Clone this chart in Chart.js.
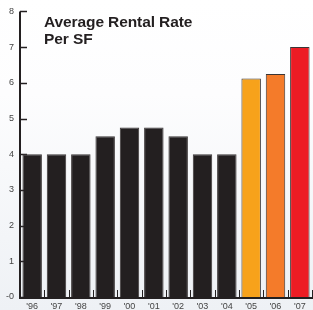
<!DOCTYPE html>
<html>
<head>
<meta charset="utf-8">
<script src="https://cdn.jsdelivr.net/npm/chart.js@4/dist/chart.umd.min.js"></script>
<style>
  html, body { margin: 0; padding: 0; }
  body { width: 313px; height: 310px; background: linear-gradient(#ffffff 0%, #fdfdfe 30%, #eef1f5 100%); position: relative; overflow: hidden; }
  #wrap { position: absolute; left: 0; top: 0; width: 313px; height: 310px; }
  #title { position: absolute; left: 44px; top: 13px; font-family: "Liberation Sans", Arial, sans-serif; font-weight: bold; font-size: 15.5px; line-height: 17px; color: #231f20; letter-spacing: -0.1px; }
</style>
</head>
<body>
<div id="wrap"><canvas id="c" width="313" height="310"></canvas></div>
<div id="title">Average Rental Rate<br>Per SF</div>
<script>
const categories = ["'96", "'97", "'98", "'99", "'00", "'01", "'02", "'03", "'04", "'05", "'06", "'07"];
const rentalRates = [4, 4, 4, 4.5, 4.75, 4.75, 4.5, 4, 4, 6.12, 6.25, 7];
const barColors = ["#231f20", "#231f20", "#231f20", "#231f20", "#231f20", "#231f20", "#231f20", "#231f20", "#231f20", "#f7a21b", "#f47b2a", "#ed1c24"];
const yTicks = [0, 1, 2, 3, 4, 5, 6, 7, 8];

const tickMarks = {
  id: 'tickMarks',
  beforeDatasetsDraw(chart) {
    const ctx = chart.ctx, y = chart.scales.y, x = chart.scales.x;
    ctx.save();
    ctx.strokeStyle = '#231f20';
    ctx.lineWidth = 1.5;
    yTicks.forEach(v => {
      const py = Math.round(y.getPixelForValue(v)) + 0.5;
      ctx.beginPath();
      ctx.moveTo(x.left, py);
      ctx.lineTo(x.left + 7, py);
      ctx.stroke();
    });
    ctx.restore();
  },
  afterDatasetsDraw(chart) {
    const ctx = chart.ctx, y = chart.scales.y, x = chart.scales.x;
    ctx.save();
    ctx.strokeStyle = '#231f20';
    ctx.lineWidth = 1;
    const bottom = y.getPixelForValue(0);
    const n = categories.length;
    for (let i = 1; i <= n; i++) {
      const px = Math.round((x.getPixelForValue(i - 1) + (i < n ? x.getPixelForValue(i) : x.getPixelForValue(i - 1) + (x.getPixelForValue(1) - x.getPixelForValue(0)))) / 2) + 0.5;
      ctx.beginPath();
      ctx.moveTo(px, bottom);
      ctx.lineTo(px, bottom - 7);
      ctx.stroke();
    }
    // axes
    ctx.lineWidth = 2;
    ctx.beginPath();
    ctx.moveTo(x.left, y.getPixelForValue(8));
    ctx.lineTo(x.left, bottom + 1);
    ctx.lineTo(x.right + 2, bottom + 1);
    ctx.stroke();
    ctx.restore();
  }
};

new Chart(document.getElementById('c'), {
  type: 'bar',
  data: {
    labels: categories,
    datasets: [{
      data: rentalRates,
      backgroundColor: barColors,
      borderColor: '#3a3535',
      borderWidth: 1,
      barPercentage: 0.8,
      categoryPercentage: 1.0
    }]
  },
  options: {
    responsive: false,
    animation: false,
    devicePixelRatio: 1,
    layout: { padding: { top: 11, right: 1, left: 0, bottom: 0 } },
    plugins: { legend: { display: false }, tooltip: { enabled: false }, title: { display: false } },
    scales: {
      x: {
        grid: { display: false, drawTicks: false },
        border: { display: false },
        ticks: { color: '#444', font: { family: 'Liberation Sans', size: 9 }, padding: 4, maxRotation: 0, autoSkip: false },
        afterFit(s) { s.height = 13; }
      },
      y: {
        min: 0, max: 8,
        grid: { display: false, drawTicks: false },
        border: { display: false },
        ticks: {
          stepSize: 1, color: '#444', font: { family: 'Liberation Sans', size: 9 }, padding: 6,
          callback: v => (v === 0 ? '-0' : String(v))
        },
        afterFit(s) { s.width = 20; }
      }
    }
  },
  plugins: [tickMarks]
});
</script>
</body>
</html>
